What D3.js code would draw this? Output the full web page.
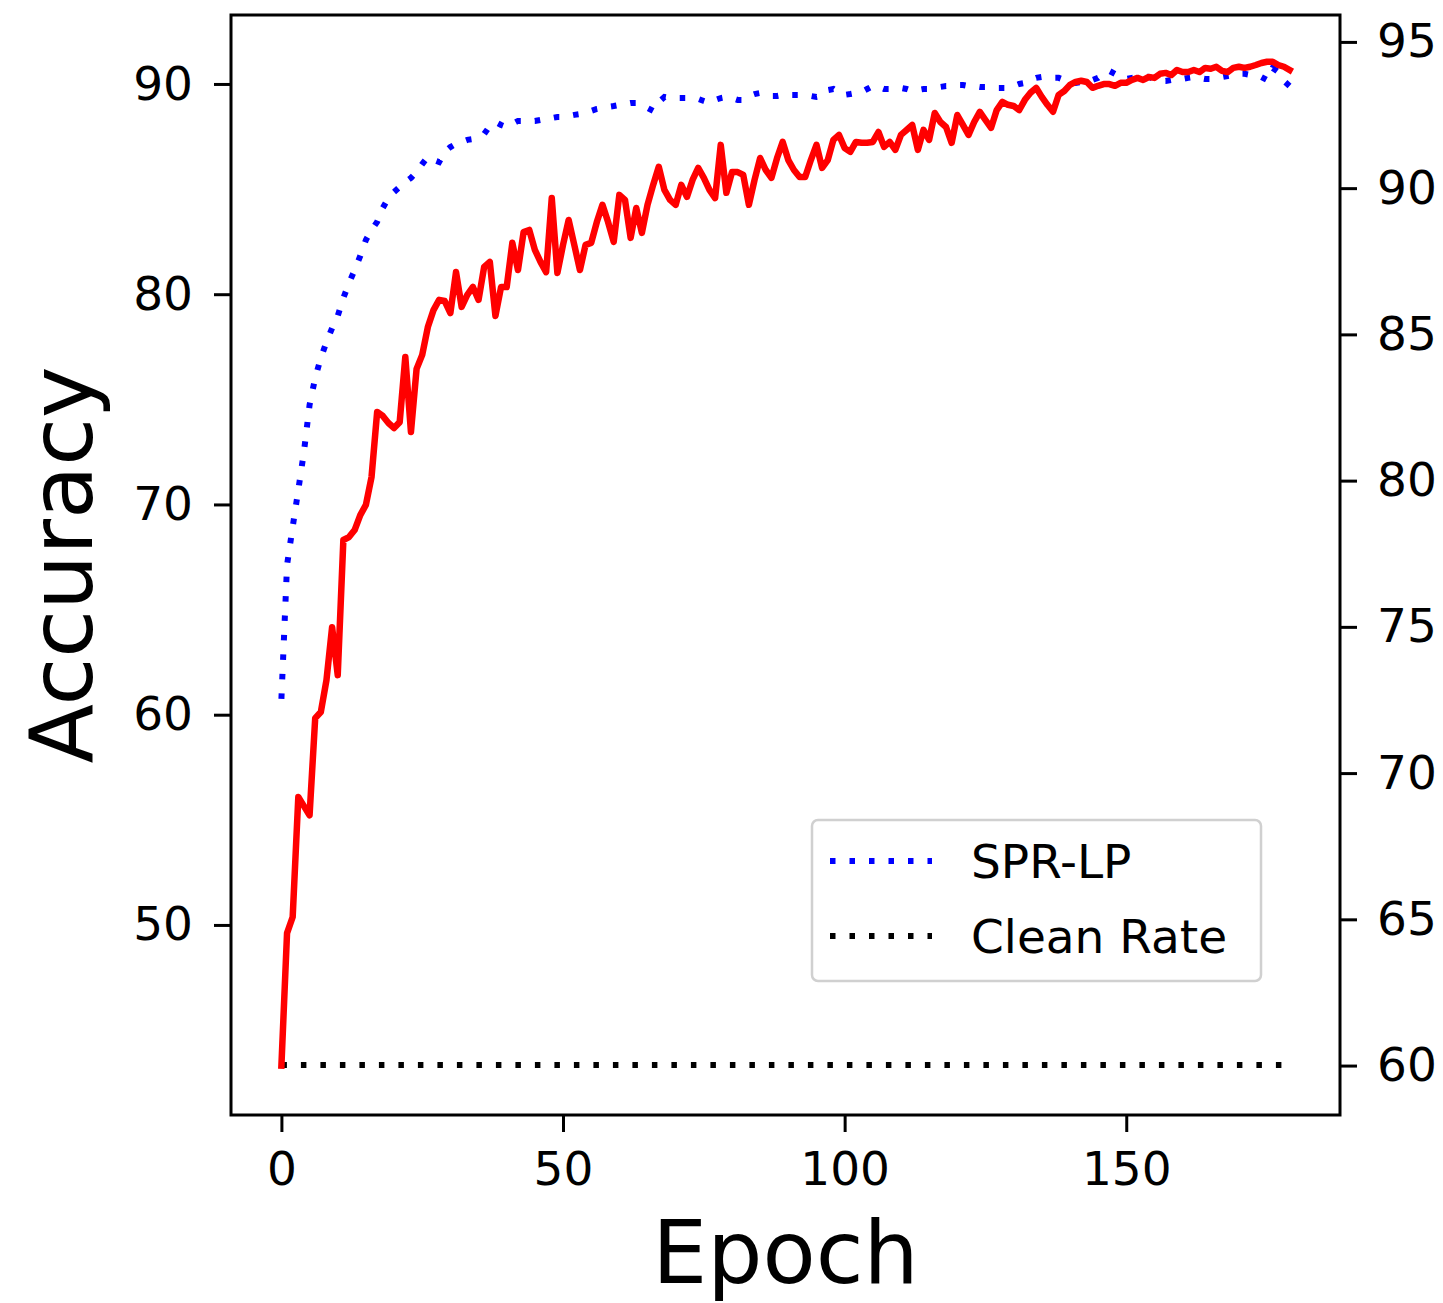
<!DOCTYPE html>
<html>
<head>
<meta charset="utf-8">
<script src="https://cdn.jsdelivr.net/npm/d3@7"></script>
<style>
  body { margin: 0; background: #fff; }
  svg { display: block; font-family: "DejaVu Sans", sans-serif; }
</style>
</head>
<body>
<svg id="chart" width="1443" height="1303"></svg>
<script>
// ---------------- data ----------------
const epochs = d3.range(0, 180);

// SPR-LP accuracy (left axis)
const sprLp = [
  60.75, 67.12, 68.93, 70.69, 72.50, 74.73, 76.02, 76.97, 77.73, 78.39,
  78.97, 79.82, 80.53, 81.15, 81.82, 82.58, 83.06, 83.44, 84.10, 84.58,
  84.86, 85.10, 85.34, 85.53, 85.81, 86.19, 86.53, 86.39, 86.29, 86.77,
  87.00, 87.15, 87.24, 87.34, 87.38, 87.48, 87.62, 88.00, 88.19, 88.05,
  87.95, 88.10, 88.24, 88.24, 88.24, 88.24, 88.29, 88.38, 88.38, 88.43,
  88.43, 88.48, 88.53, 88.57, 88.62, 88.72, 88.81, 88.86, 88.91, 88.95,
  89.00, 89.05, 89.10, 89.10, 89.05, 88.86, 88.72, 89.14, 89.38, 89.33,
  89.33, 89.33, 89.33, 89.33, 89.29, 89.19, 89.10, 89.24, 89.33, 89.38,
  89.33, 89.24, 89.24, 89.43, 89.52, 89.57, 89.48, 89.43, 89.43, 89.48,
  89.48, 89.48, 89.48, 89.48, 89.43, 89.38, 89.43, 89.71, 89.76, 89.57,
  89.48, 89.52, 89.57, 89.62, 89.76, 89.90, 89.86, 89.76, 89.76, 89.81,
  89.81, 89.76, 89.67, 89.71, 89.76, 89.76, 89.81, 89.86, 89.90, 89.90,
  89.95, 89.95, 89.90, 89.90, 89.86, 89.86, 89.86, 89.81, 89.81, 89.81,
  89.90, 90.00, 90.05, 90.19, 90.29, 90.33, 90.29, 90.29, 90.29, 90.19,
  90.10, 90.05, 90.10, 90.19, 90.19, 90.29, 90.52, 90.62, 90.48, 90.29,
  90.24, 90.29, 90.33, 90.38, 90.33, 90.24, 90.14, 90.14, 90.19, 90.24,
  90.24, 90.29, 90.33, 90.29, 90.24, 90.24, 90.29, 90.33, 90.38, 90.43,
  90.48, 90.48, 90.43, 90.43, 90.33, 90.19, 90.76, 90.57, 90.14, 89.90
];

// Red curve (right axis)
const redAcc = [
  60.00, 64.53, 65.08, 69.18, 68.87, 68.56, 71.88, 72.09, 73.18, 74.99,
  73.35, 77.97, 78.07, 78.31, 78.82, 79.17, 80.12, 82.35, 82.21, 81.97,
  81.80, 82.00, 84.23, 81.66, 83.82, 84.30, 85.25, 85.83, 86.18, 86.14,
  85.73, 87.13, 85.94, 86.35, 86.62, 86.18, 87.31, 87.48, 85.63, 86.62,
  86.62, 88.13, 87.20, 88.50, 88.57, 87.89, 87.48, 87.13, 89.66, 87.10,
  88.06, 88.91, 88.06, 87.20, 88.06, 88.13, 88.84, 89.43, 88.84, 88.16,
  89.77, 89.60, 88.30, 89.32, 88.47, 89.43, 90.11, 90.73, 89.94, 89.60,
  89.43, 90.11, 89.70, 90.28, 90.69, 90.35, 89.94, 89.66, 91.48, 89.84,
  90.55, 90.55, 90.45, 89.43, 90.28, 91.03, 90.62, 90.35, 91.03, 91.58,
  90.96, 90.62, 90.38, 90.38, 90.96, 91.48, 90.69, 90.96, 91.65, 91.82,
  91.37, 91.24, 91.58, 91.55, 91.55, 91.58, 91.92, 91.41, 91.58, 91.31,
  91.82, 91.99, 92.16, 91.31, 91.99, 91.65, 92.57, 92.26, 92.09, 91.55,
  92.50, 92.16, 91.82, 92.26, 92.61, 92.33, 92.06, 92.67, 92.95, 92.85,
  92.81, 92.67, 93.02, 93.26, 93.43, 93.12, 92.85, 92.61, 93.19, 93.32,
  93.53, 93.63, 93.67, 93.63, 93.43, 93.50, 93.56, 93.56, 93.50, 93.60,
  93.60, 93.70, 93.77, 93.70, 93.80, 93.77, 93.91, 93.94, 93.87, 94.04,
  93.97, 93.97, 94.04, 93.97, 94.11, 94.08, 94.15, 94.01, 93.97, 94.11,
  94.15, 94.11, 94.15, 94.21, 94.28, 94.32, 94.32, 94.21, 94.15, 94.04
];

// Clean rate (left axis), constant over all epochs
const cleanEpochs = [0, 179];
const cleanRate = [43.34, 43.34];

const xTicks = [0, 50, 100, 150];
const leftTicks = [50, 60, 70, 80, 90];
const rightTicks = [60, 65, 70, 75, 80, 85, 90, 95];
const legendLabels = ["SPR-LP", "Clean Rate"];
const legendColors = ["#0000ff", "#000000"];

// ---------------- layout ----------------
const plot = { left: 231, right: 1340, top: 15, bottom: 1115 };
const svg = d3.select("#chart");

const x = d3.scaleLinear().domain([-8.95, 187.95]).range([plot.left, plot.right]);
const yL = d3.scaleLinear().domain([40.96, 93.28]).range([plot.bottom, plot.top]);
const yR = d3.scaleLinear().domain([58.31, 95.92]).range([plot.bottom, plot.top]);

const FONT = 47;
const dotDash = "5.5,14";

// clip
svg.append("defs").append("clipPath").attr("id", "clip")
  .append("rect").attr("x", plot.left).attr("y", plot.top)
  .attr("width", plot.right - plot.left).attr("height", plot.bottom - plot.top);

const g = svg.append("g").attr("clip-path", "url(#clip)");

// SPR-LP
g.append("path")
  .datum(epochs.map((e, i) => [e, sprLp[i]]))
  .attr("fill", "none").attr("stroke", "#0000ff")
  .attr("stroke-width", 6).attr("stroke-dasharray", dotDash)
  .attr("stroke-linecap", "butt")
  .attr("d", d3.line().x(d => x(d[0])).y(d => yL(d[1])));

// Clean rate
g.append("path")
  .datum(cleanEpochs.map((e, i) => [e, cleanRate[i]]))
  .attr("fill", "none").attr("stroke", "#000")
  .attr("stroke-width", 6).attr("stroke-dasharray", dotDash)
  .attr("stroke-linecap", "butt")
  .attr("d", d3.line().x(d => x(d[0])).y(d => yL(d[1])));

// Red
g.append("path")
  .datum(epochs.map((e, i) => [e, redAcc[i]]))
  .attr("fill", "none").attr("stroke", "#ff0000")
  .attr("stroke-width", 6.5).attr("stroke-linejoin", "round")
  .attr("stroke-linecap", "square")
  .attr("d", d3.line().x(d => x(d[0])).y(d => yR(d[1])));

// ---------------- axes ----------------
function styleAxis(sel) {
  sel.select(".domain").remove();
  sel.selectAll(".tick line").attr("stroke", "#000").attr("stroke-width", 3);
  sel.selectAll(".tick text").attr("font-size", FONT)
    .attr("font-family", "DejaVu Sans, sans-serif").attr("fill", "#000");
}

svg.append("g").attr("transform", `translate(0,${plot.bottom})`)
  .call(d3.axisBottom(x).tickValues(xTicks).tickFormat(d3.format("d")).tickSize(17).tickPadding(20))
  .call(styleAxis);

svg.append("g").attr("transform", `translate(${plot.left},0)`)
  .call(d3.axisLeft(yL).tickValues(leftTicks).tickFormat(d3.format("d")).tickSize(17).tickPadding(21))
  .call(styleAxis);

svg.append("g").attr("transform", `translate(${plot.right},0)`)
  .call(d3.axisRight(yR).tickValues(rightTicks).tickFormat(d3.format("d")).tickSize(17).tickPadding(20))
  .call(styleAxis);

// frame
svg.append("rect")
  .attr("x", plot.left).attr("y", plot.top)
  .attr("width", plot.right - plot.left).attr("height", plot.bottom - plot.top)
  .attr("fill", "none").attr("stroke", "#000").attr("stroke-width", 3);

// axis titles
svg.append("text").attr("x", (plot.left + plot.right) / 2).attr("y", 1283)
  .attr("text-anchor", "middle").attr("font-size", 87).text("Epoch");
svg.append("text")
  .attr("transform", `translate(92,${(plot.top + plot.bottom) / 2}) rotate(-90)`)
  .attr("text-anchor", "middle").attr("font-size", 87).text("Accuracy");

// ---------------- legend ----------------
const lg = svg.append("g");
lg.append("rect").attr("x", 812).attr("y", 820).attr("width", 449).attr("height", 161)
  .attr("rx", 6).attr("fill", "#fff").attr("fill-opacity", 0.8)
  .attr("stroke", "#d0d0d0").attr("stroke-width", 2.5);
const rowsY = [861, 936];
legendLabels.forEach((lab, i) => {
  lg.append("line").attr("x1", 830).attr("x2", 932)
    .attr("y1", rowsY[i]).attr("y2", rowsY[i])
    .attr("stroke", legendColors[i]).attr("stroke-width", 6)
    .attr("stroke-dasharray", dotDash);
  lg.append("text").attr("x", 971).attr("y", rowsY[i] + 17)
    .attr("font-size", FONT).attr("fill", "#000").text(lab);
});
</script>
</body>
</html>
